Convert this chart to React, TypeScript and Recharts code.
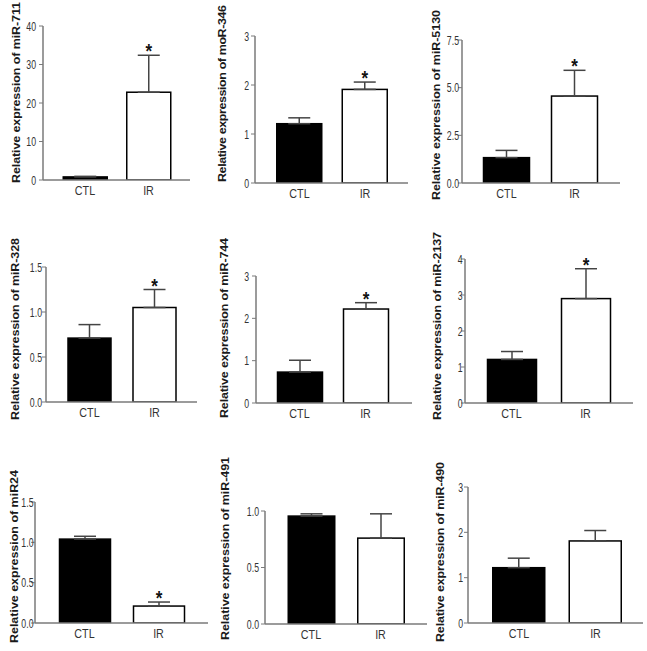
import { Bar, BarChart, ErrorBar, XAxis, YAxis } from "recharts";

const groups = ["CTL", "IR"];

const titles = [
    "Relative expression of miR-711",
    "Relative expression of moR-346",
    "Relative expression of miR-5130",
    "Relative expression of miR-328",
    "Relative expression of miR-744",
    "Relative expression of miR-2137",
    "Relative expression of miR24",
    "Relative expression of miR-491",
    "Relative expression of miR-490",
];

// mean values, CTL then IR
const means = [
    [0.8, 22.8],
    [1.21, 1.91],
    [1.33, 4.56],
    [0.71, 1.05],
    [0.73, 2.22],
    [1.21, 2.9],
    [1.04, 0.21],
    [0.955, 0.76],
    [1.22, 1.81],
];

// upper error (SEM)
const errs = [
    [0.15, 9.6],
    [0.12, 0.15],
    [0.38, 1.35],
    [0.15, 0.2],
    [0.28, 0.15],
    [0.22, 0.83],
    [0.035, 0.05],
    [0.02, 0.215],
    [0.21, 0.23],
];

const significant = [
    [false, true],
    [false, true],
    [false, true],
    [false, true],
    [false, true],
    [false, true],
    [false, true],
    [false, false],
    [false, false],
];

const yTicks = [
    [0, 10, 20, 30, 40],
    [0, 1, 2, 3],
    [0, 2.5, 5, 7.5],
    [0, 0.5, 1, 1.5],
    [0, 1, 2, 3],
    [0, 1, 2, 3, 4],
    [0, 0.5, 1, 1.5],
    [0, 0.5, 1],
    [0, 1, 2, 3],
];

const tickDigits = [0, 0, 1, 1, 0, 0, 1, 1, 0];

// page layout (px): cell box, axis positions, bar centres, tick gap, title placement
const layout = [
    { l: 0, t: 0, w: 215, h: 210, x0: 43, x1: 190, yTop: 26, yZero: 180, c1: 85, c2: 148.5, bw: 44, gap: 7, tx: 15.5, ty0: 2, ty1: 183 },
    { l: 215, t: 0, w: 215, h: 210, x0: 255, x1: 408, yTop: 36, yZero: 183, c1: 299.5, c2: 365, bw: 45, gap: 6, tx: 7, ty0: 5, ty1: 182 },
    { l: 430, t: 0, w: 217, h: 210, x0: 462, x1: 620, yTop: 40, yZero: 183, c1: 506.5, c2: 574.5, bw: 46, gap: 3, tx: 6, ty0: 10, ty1: 200 },
    { l: 0, t: 210, w: 215, h: 220, x0: 46, x1: 197, yTop: 267, yZero: 402, c1: 89.5, c2: 154.5, bw: 43, gap: 4, tx: 15, ty0: 28, ty1: 210 },
    { l: 215, t: 210, w: 215, h: 220, x0: 256, x1: 412, yTop: 276, yZero: 403, c1: 299.5, c2: 365.5, bw: 45, gap: 7, tx: 9, ty0: 28, ty1: 208 },
    { l: 430, t: 210, w: 217, h: 220, x0: 465, x1: 633, yTop: 259, yZero: 403, c1: 511.5, c2: 585.5, bw: 49, gap: 2.5, tx: 7, ty0: 22, ty1: 210 },
    { l: 0, t: 430, w: 215, h: 221, x0: 35, x1: 208, yTop: 502, yZero: 623, c1: 84.5, c2: 158.5, bw: 51, gap: 1.5, tx: 14, ty0: 40, ty1: 213 },
    { l: 215, t: 430, w: 215, h: 221, x0: 265, x1: 427, yTop: 511, yZero: 624, c1: 311, c2: 380.5, bw: 46.5, gap: 6, tx: 10, ty0: 27, ty1: 210 },
    { l: 430, t: 430, w: 217, h: 221, x0: 468, x1: 643, yTop: 487, yZero: 623, c1: 519, c2: 595.5, bw: 52, gap: 5, tx: 10, ty0: 32, ty1: 212 },
];

const FONT = "'Liberation Sans', Arial, sans-serif";
const AXIS = "#7a7a7a";
const TEXT = "#333";
const Y_AXIS_W = 24;
const X_AXIS_H = 20;

// the source figure is squeezed horizontally, so text is narrowed
const YTick = ({ x, y, payload, digits, gap }: any) => (
    <g transform={`translate(${x + 6 - gap},${y})`}>
        <text
            transform="scale(0.7,1)"
            textAnchor="end"
            dy="0.36em"
            fontFamily={FONT}
            fontSize={12.5}
            fill={TEXT}
        >
            {Number(payload.value).toFixed(digits)}
        </text>
    </g>
);

const XTick = ({ x, y, payload }: any) => (
    <g transform={`translate(${x},${y})`}>
        <text
            transform="scale(0.86,1)"
            textAnchor="middle"
            dy="0.71em"
            fontFamily={FONT}
            fontSize={12.5}
            fill={TEXT}
        >
            {payload.value}
        </text>
    </g>
);

function Panel({ i }: { i: number }) {
    const p = layout[i];
    const data = groups.map((g, k) => ({
        name: g,
        value: means[i][k],
        err: [0, errs[i][k]],
    }));
    const d = p.c2 - p.c1;
    const padL = p.c1 - d / 2 - p.x0;
    const padR = p.x1 - (p.c2 + d / 2);
    const margin = {
        top: p.yTop - p.t,
        right: p.l + p.w - p.x1,
        bottom: p.t + p.h - p.yZero - X_AXIS_H,
        left: p.x0 - p.l - Y_AXIS_W,
    };
    const yMax = yTicks[i][yTicks[i].length - 1];
    const cy = (p.ty0 + p.ty1) / 2;

    const star = (props: any) => {
        const { x, y, width, height, index } = props;
        if (!significant[i][index]) return null;
        const top = y - (height * errs[i][index]) / means[i][index];
        return (
            <g key={`star-${index}`} transform={`translate(${x + width / 2},${top + 3})`}>
                <text
                    transform="scale(0.85,1)"
                    textAnchor="middle"
                    fontFamily={FONT}
                    fontWeight="bold"
                    fontSize={20}
                    fill="#111"
                >
                    *
                </text>
            </g>
        );
    };

    return (
        <div style={{ position: "absolute", left: p.l, top: p.t, width: p.w, height: p.h }}>
            <BarChart width={p.w} height={p.h} data={data} margin={margin}>
                <XAxis
                    dataKey="name"
                    height={X_AXIS_H}
                    padding={{ left: padL, right: padR }}
                    tickLine={false}
                    axisLine={{ stroke: AXIS, strokeWidth: 1.5 }}
                    tick={<XTick />}
                    tickSize={4}
                    tickMargin={2}
                />
                <YAxis
                    width={Y_AXIS_W}
                    domain={[0, yMax]}
                    ticks={yTicks[i]}
                    allowDataOverflow
                    interval={0}
                    axisLine={{ stroke: AXIS, strokeWidth: 1.5 }}
                    tickLine={{ stroke: AXIS, strokeWidth: 1 }}
                    tickSize={4}
                    tickMargin={2}
                    tick={<YTick digits={tickDigits[i]} gap={p.gap} />}
                />
                <Bar
                    dataKey="value"
                    barSize={p.bw}
                    isAnimationActive={false}
                    shape={(props: any) => (
                        <rect
                            x={props.x}
                            y={props.y}
                            width={props.width}
                            height={props.height}
                            fill={props.index === 0 ? "#000" : "#fff"}
                            stroke="#000"
                            strokeWidth={1.5}
                        />
                    )}
                    label={star}
                >
                    <ErrorBar dataKey="err" width={11} stroke="#444" strokeWidth={1.5} direction="y" />
                </Bar>
            </BarChart>
            <svg
                width={p.w}
                height={p.h}
                style={{ position: "absolute", left: 0, top: 0, pointerEvents: "none" }}
            >
                <g transform={`translate(${p.tx},${cy}) scale(0.85,1) rotate(-90)`}>
                    <text
                        x={0}
                        y={0}
                        textAnchor="middle"
                        dominantBaseline="central"
                        fontFamily={FONT}
                        fontWeight="bold"
                        fontSize={12.5}
                        fill="#1a1a1a"
                        textLength={p.ty1 - p.ty0}
                        lengthAdjust="spacing"
                    >
                        {titles[i]}
                    </text>
                </g>
            </svg>
        </div>
    );
}

export default function App() {
    return (
        <div
            style={{
                position: "absolute",
                left: 0,
                top: 0,
                width: 647,
                height: 651,
                background: "#fff",
                overflow: "hidden",
            }}
        >
            {titles.map((_, i) => (
                <Panel key={i} i={i} />
            ))}
        </div>
    );
}
